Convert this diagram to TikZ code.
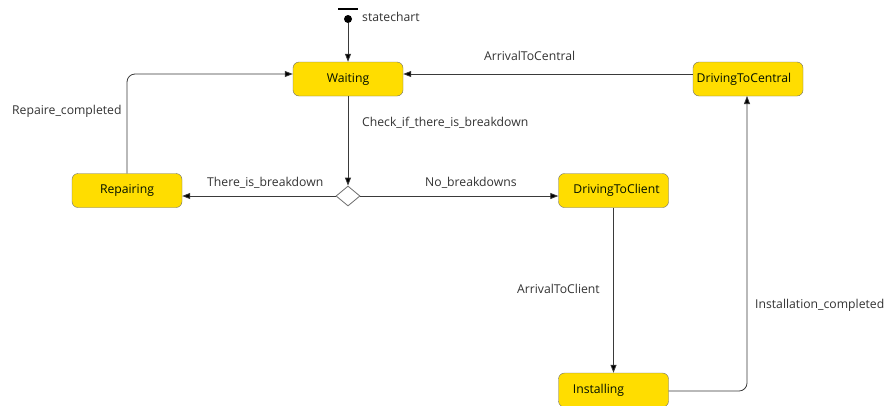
\documentclass[tikz,border=0pt]{standalone}
\usepackage{fontspec}
\setmainfont{Open Sans}
\usetikzlibrary{shapes.geometric,arrows.meta}
\definecolor{stfill}{HTML}{FFDD00}
\definecolor{stdraw}{HTML}{6E6E6E}
\definecolor{lnc}{HTML}{3A3A3A}
\definecolor{txc}{HTML}{333333}
\begin{document}
\begin{tikzpicture}[x=1pt,y=-1pt,
  state/.style={draw=stdraw,fill=stfill,rounded corners=6pt,minimum width=110pt,minimum height=34pt,inner sep=0pt,font=\fontsize{12.2}{14}\selectfont,text=black!85!green!40!black},
  tr/.style={draw=lnc,line width=0.8pt,-{Triangle[length=8pt,width=6pt,fill=black]}},
  lbl/.style={font=\fontsize{12.2}{14}\selectfont,text=txc,inner sep=0pt,anchor=west}]
\useasboundingbox[fill=white] (0,0) rectangle (890,405);
% initial
\draw[line width=1.8pt] (338,9) -- (358,9);
\node[circle,fill=black,inner sep=0pt,minimum size=8pt] (init) at (348,19) {};
\node[lbl] (initl) at (362,17) {statechart};
% states
\node[state] (wait) at (348,79) {Waiting};
\node[state] (rep) at (127,190.5) {Repairing};
\node[state] (dtc) at (613.5,190.5) {\hspace*{6pt}DrivingToClient};
\node[state] (dtce) at (748,79) {\hspace*{-8pt}DrivingToCentral};
\node[state] (inst) at (613.5,390) {\hspace*{-30pt}Installing};
\node[diamond,draw=stdraw,fill=white,line width=0.8pt,minimum width=24pt,minimum height=20pt,inner sep=0pt] (dec) at (348,196) {};
% transitions
\draw[tr] (init) -- (wait);
\draw[tr] (wait) -- (dec);
\draw[tr] (dec.west) -- (rep.east |- dec.west);
\draw[tr] (dec.east) -- (dtc.west |- dec.east);
\draw[tr] (dtc) -- (inst);
\draw[tr] (dtce.west |- 0,74) -- (wait.east |- 0,74);
\draw[tr,rounded corners=8pt] (rep.north) -- (127,74) -- (wait.west |- 0,74);
\draw[tr,rounded corners=8pt] (inst.east |- 0,391) -- (747,391) -- (747,96);
% labels
\node[lbl] (l1) at (362,123) {Check\_if\_there\_is\_breakdown};
\node[lbl] (l2) at (207,183) {There\_is\_breakdown};
\node[lbl] (l3) at (425,183) {No\_breakdowns};
\node[lbl] (l4) at (12,111) {Repaire\_completed};
\node[lbl] (l5) at (517,289) {ArrivalToClient};
\node[lbl] (l6) at (755,305) {Installation\_completed};
\node[lbl] (l7) at (484,56) {ArrivalToCentral};
\end{tikzpicture}
\end{document}
